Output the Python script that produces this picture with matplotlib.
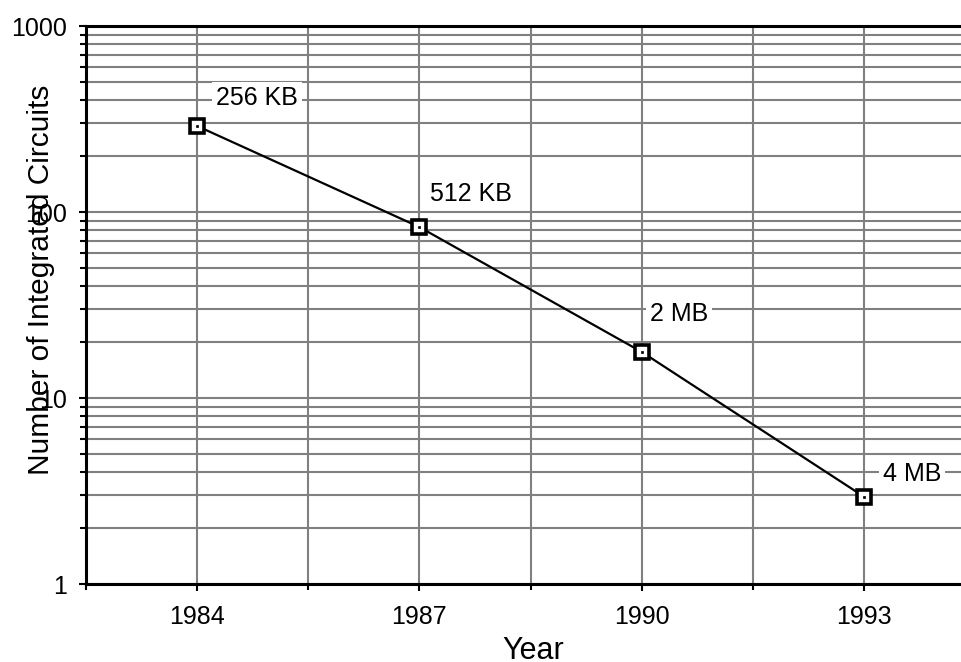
import numpy as np
import matplotlib
matplotlib.use("Agg")
import matplotlib.pyplot as plt
from matplotlib.ticker import FixedLocator, LogLocator, NullFormatter, FuncFormatter

plt.rcParams['font.family'] = ['Liberation Sans', 'DejaVu Sans']

# data
years = [1984, 1987, 1990, 1993]
chips = [290, 83, 17.7, 2.95]
dram_labels = ["256 KB", "512 KB", "2 MB", "4 MB"]
# label offsets from each point, in pixels (dx, dy)
label_offsets = [(19, 28), (11, 33), (8, 38), (19, 23)]

fig = plt.figure(figsize=(9.62, 6.62), dpi=100)
ax = fig.add_axes([86 / 962, 78 / 662, 889 / 962, 558 / 662])

ax.plot(years, chips, color="black", lw=1.6, zorder=3)
ax.plot(years, chips, ls="none", marker="s", ms=9.5, mfc="white", mec="black", mew=2.6, zorder=4)
ax.plot(years, chips, ls="none", marker="s", ms=1.5, mfc="black", mec="black", mew=0.5, zorder=5)

for x, y, txt, (dx, dy) in zip(years, chips, dram_labels, label_offsets):
    ax.annotate(txt, (x, y), xytext=(dx, dy), textcoords="offset pixels",
                ha="left", va="center", fontsize=18, zorder=6,
                bbox=dict(boxstyle="square,pad=0.15", fc="white", ec="none"))

ax.set_yscale("log")
ax.set_ylim(1, 1000)
ax.set_xlim(1982.5, 1994.5)

ax.yaxis.set_major_locator(FixedLocator([1, 10, 100, 1000]))
ax.yaxis.set_major_formatter(FuncFormatter(lambda v, p: f"{int(v)}"))
ax.yaxis.set_minor_locator(LogLocator(base=10, subs=np.arange(2, 10)))
ax.yaxis.set_minor_formatter(NullFormatter())

ax.xaxis.set_major_locator(FixedLocator(years))
ax.xaxis.set_minor_locator(FixedLocator([1982.5, 1985.5, 1988.5, 1991.5, 1994.5]))

ax.grid(True, which="both", color="#808080", lw=1.5, zorder=1)
ax.set_axisbelow(True)

ax.tick_params(axis="both", which="major", direction="out", length=5, width=1.5,
               labelsize=18, color="black")
ax.tick_params(axis="y", which="major", pad=9)
ax.tick_params(axis="x", which="major", pad=10)
ax.tick_params(axis="both", which="minor", direction="out", length=4, width=1.5, color="black")

for side in ["left", "bottom", "top", "right"]:
    ax.spines[side].set_linewidth(2.2)
    ax.spines[side].set_color("black")

fig.text(41.5 / 962, 1 - 280 / 662, "Number of Integrated Circuits", rotation=90,
         ha="center", va="center", fontsize=21.5)
fig.text(533 / 962, 1 - 651 / 662, "Year", ha="center", va="center", fontsize=22)

fig.savefig("out.png", dpi=100)
